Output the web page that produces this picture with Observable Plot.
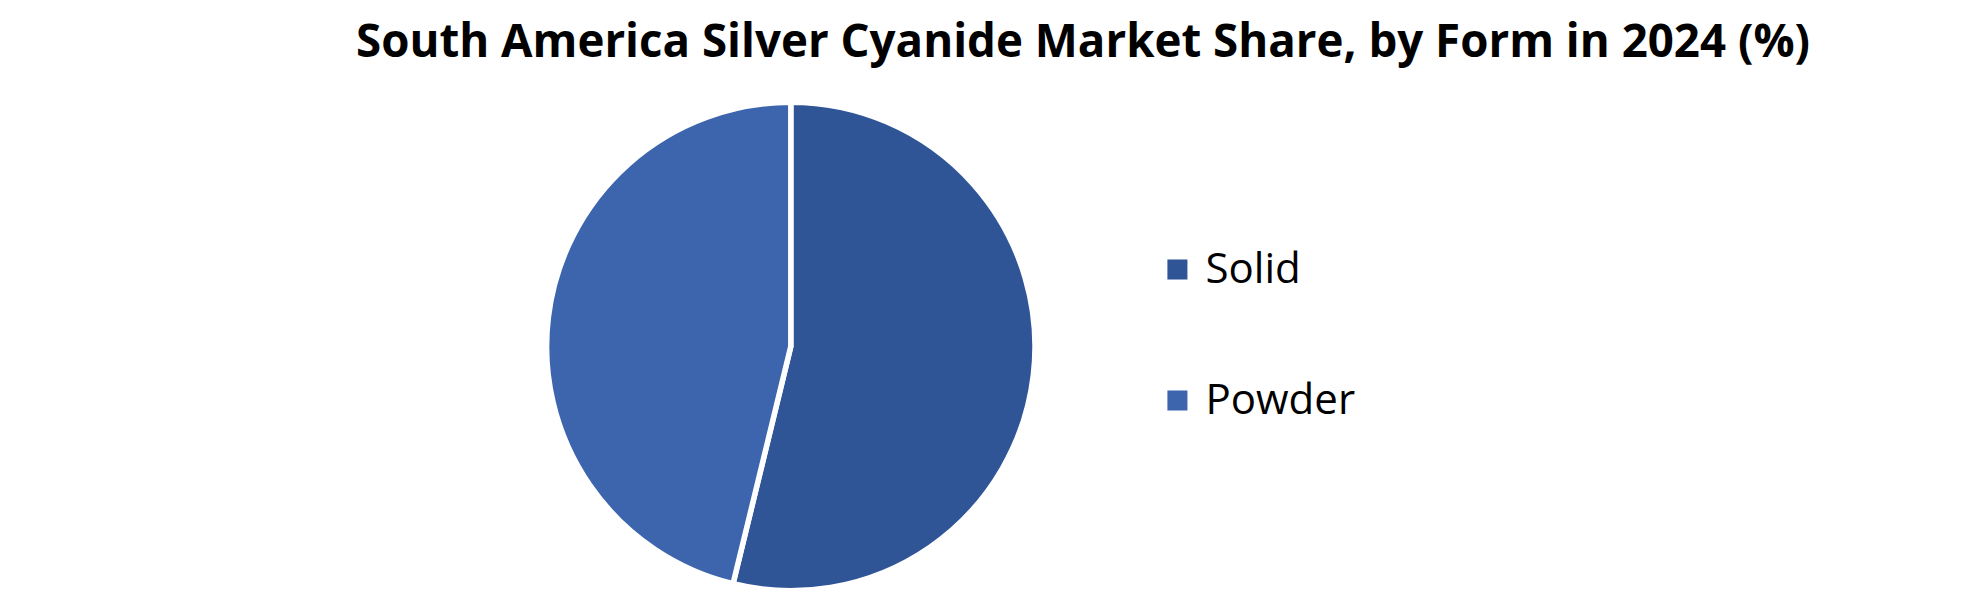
<!DOCTYPE html>
<html><head><meta charset="utf-8">
<script src="https://cdn.jsdelivr.net/npm/d3@7"></script>
<script src="https://cdn.jsdelivr.net/npm/@observablehq/plot@0.6"></script>
<style>
body{margin:0;background:#fff;}
#title{height:90px;position:relative;width:1980px;overflow:visible;}
#title span{position:absolute;left:356px;top:8px;font-family:"Open Sans";font-weight:700;font-size:46px;line-height:normal;white-space:nowrap;transform-origin:left top;color:#000;}
#chart svg{display:block;}
</style></head><body>
<div id="title"><span id="tt">South America Silver Cyanide Market Share, by Form in 2024 (%)</span></div>
<div id="chart"></div>
<script>
const forms = ["Solid", "Powder"];
const shares = [53.8, 46.2];
const colors = ["#2F5597", "#3C65AD"];
const data = forms.map((f, i) => ({form: f, share: shares[i]}));

// fit title width
const tt = document.getElementById("tt");
const targetW = 1454;
tt.style.transform = `scaleX(${targetW / tt.getBoundingClientRect().width})`;

const W = 1980, H = 504;
const cx = 790.8, cy = 256.5, R = 244.2;

function pieMark(index, scales, values, dimensions, context) {
  const color = scales.color || (f => colors[forms.indexOf(f)]);
  const arcs = d3.pie().sort(null).value(d => d.share)(data);
  const arc = d3.arc().innerRadius(0).outerRadius(R);
  const g = d3.create("svg:g").attr("transform", `translate(${cx},${cy})`);
  g.selectAll("path").data(arcs).join("path")
    .attr("d", arc)
    .attr("fill", d => color(d.data.form))
    .attr("stroke", "#fff")
    .attr("stroke-width", 5.5)
    .attr("stroke-linejoin", "miter");
  return g.node();
}

const chart = Plot.plot({
  width: W,
  height: H,
  margin: 0,
  x: {domain: [0, 1], range: [0, W], axis: null},
  y: {type: "point", domain: forms, range: [179, 310], padding: 0, axis: null},
  color: {domain: forms, range: colors},
  style: {fontFamily: "Open Sans", background: "#fff"},
  marks: [
    pieMark,
    Plot.dot(data, {x: () => 0.5944, y: "form", fill: "form", symbol: "square", r: 11.3}),
    Plot.text(data, {x: () => 0.6086, y: "form", text: "form", textAnchor: "start", lineAnchor: "middle", fontSize: 42, fill: "#000"})
  ]
});
document.getElementById("chart").appendChild(chart);
</script>
</body></html>
